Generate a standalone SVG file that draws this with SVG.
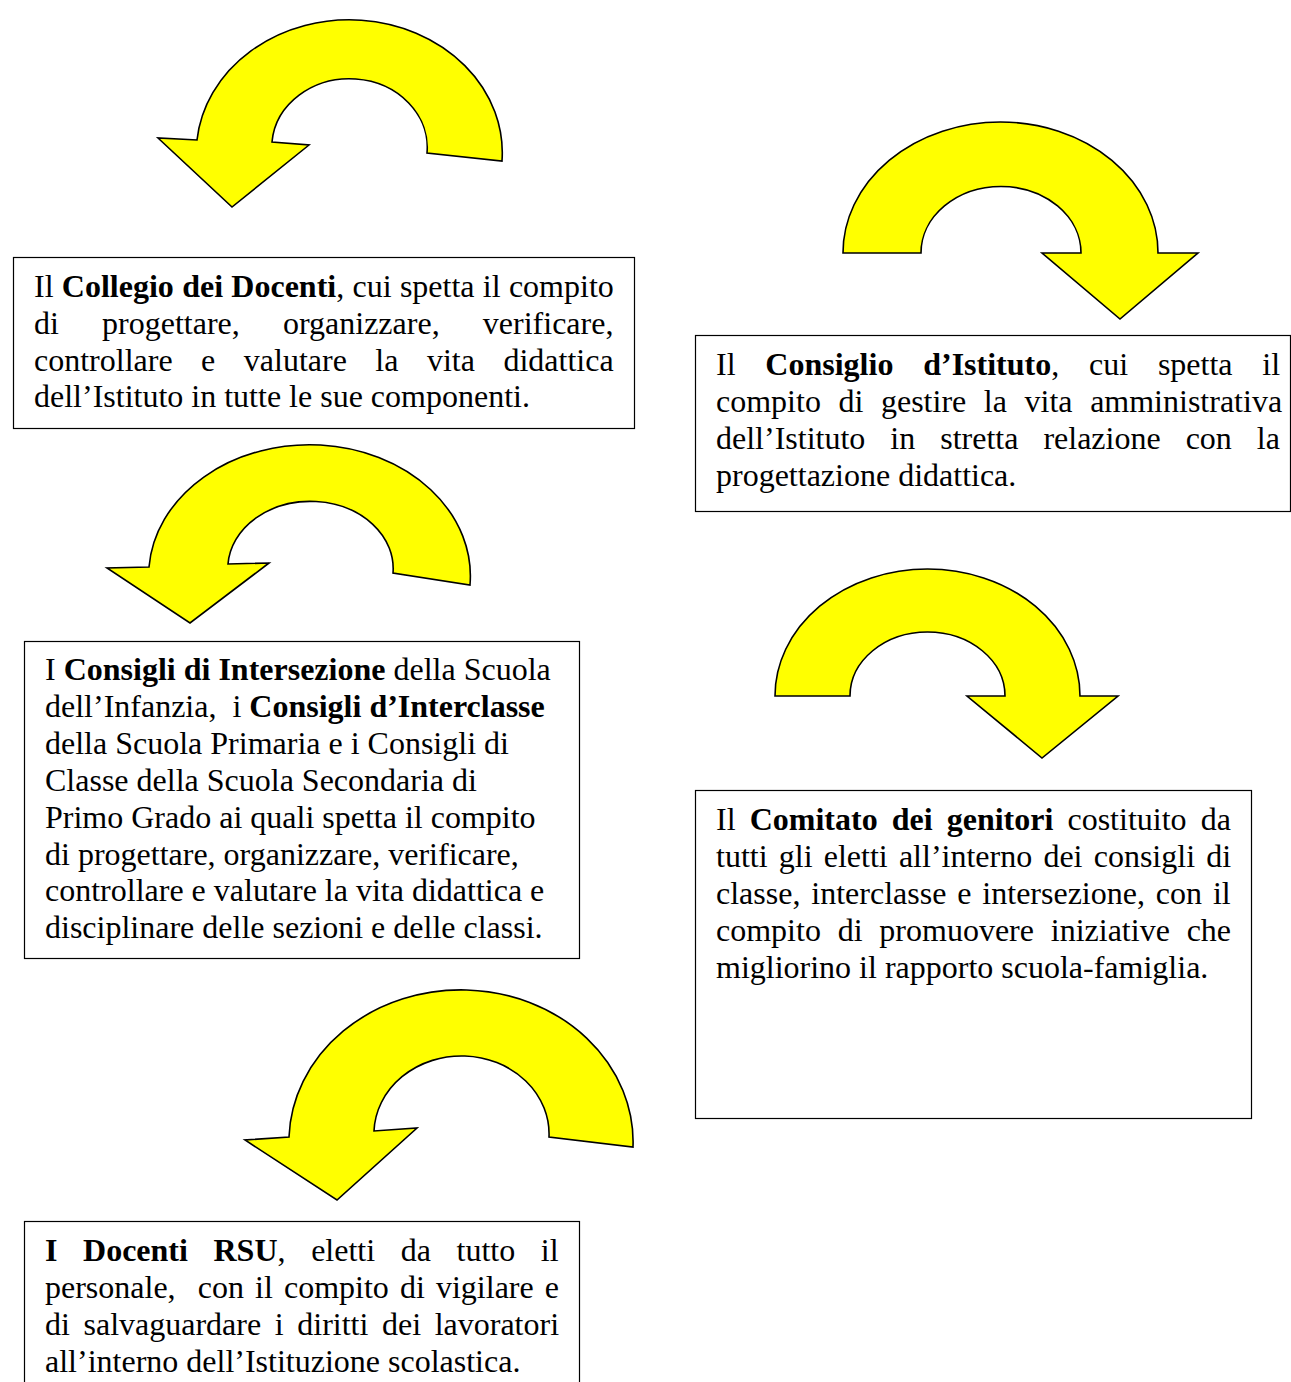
<svg xmlns="http://www.w3.org/2000/svg" width="1291" height="1382" viewBox="0 0 1291 1382">
<style>
.bg{fill:#ffffff}
.box{fill:#ffffff;stroke:#000000;stroke-width:1.2}
.arr{fill:#ffff00;stroke:#000000;stroke-width:1.6;stroke-linejoin:miter}
.t{font-family:"Liberation Serif","Times New Roman",serif;font-size:32px;fill:#000000}
.b{font-weight:bold}
</style>
<rect class="bg" x="0" y="0" width="1291" height="1382"/>

<g id="connectors">
  <path id="arrow1" class="arr" d="M 272,142 A 77.5,68.5 0 0 1 427,153 L 502,161 A 153,133 0 0 0 197,140 L 158,138 L 232,207 L 309,145 Z"/>
  <path id="arrow2" class="arr" d="M 843,253 A 157.5,131 0 0 1 1158,253 L 1198,253 L 1120,319 L 1042,253 L 1081,253 A 80,66.5 0 0 0 921,253 Z"/>
  <path id="arrow3" class="arr" d="M 228,564 A 82.5,67 0 0 1 393,573 L 470,585 A 160.5,131 0 0 0 149,567 L 107,568 L 190,623 L 269,563 Z"/>
  <path id="arrow4" class="arr" d="M 775,696 A 152.5,127 0 0 1 1080,696 L 1118,696 L 1042,758 L 967,696 L 1005,696 A 77.5,64 0 0 0 850,696 Z"/>
  <path id="arrow5" class="arr" d="M 374,1131 A 87.5,78 0 0 1 549,1137 L 633,1147 A 172,152 0 0 0 289,1137 L 245,1140 L 337,1200 L 417,1128 Z"/>
</g>

<g id="collegio">
  <rect class="box" x="13.5" y="257.5" width="621" height="171"/>
  <text class="t" x="34" y="297" style="word-spacing:0.3px">Il <tspan class="b">Collegio dei Docenti</tspan>, cui spetta il compito</text>
  <text class="t" x="34" y="334" style="word-spacing:35.2px">di progettare, organizzare, verificare,</text>
  <text class="t" x="34" y="371" style="word-spacing:20.5px">controllare e valutare la vita didattica</text>
  <text class="t" x="34" y="407">dell’Istituto in tutte le sue componenti.</text>
</g>

<g id="consiglio-istituto">
  <rect class="box" x="695.5" y="335.5" width="595" height="176"/>
  <text class="t" x="716" y="375" style="word-spacing:21.8px">Il <tspan class="b">Consiglio d’Istituto</tspan>, cui spetta il</text>
  <text class="t" x="716" y="412" style="word-spacing:9.6px">compito di gestire la vita amministrativa</text>
  <text class="t" x="716" y="449" style="word-spacing:17px">dell’Istituto in stretta relazione con la</text>
  <text class="t" x="716" y="486">progettazione didattica.</text>
</g>

<g id="consigli-intersezione">
  <rect class="box" x="24.5" y="641.5" width="555" height="317"/>
  <text class="t" x="45" y="680">I <tspan class="b">Consigli di Intersezione</tspan> della Scuola</text>
  <text class="t" x="45" y="717" xml:space="preserve">dell’Infanzia,  i <tspan class="b">Consigli d’Interclasse</tspan></text>
  <text class="t" x="45" y="754">della Scuola Primaria e i Consigli di</text>
  <text class="t" x="45" y="791">Classe della Scuola Secondaria di</text>
  <text class="t" x="45" y="828">Primo Grado ai quali spetta il compito</text>
  <text class="t" x="45" y="865">di progettare, organizzare, verificare,</text>
  <text class="t" x="45" y="901">controllare e valutare la vita didattica e</text>
  <text class="t" x="45" y="938">disciplinare delle sezioni e delle classi.</text>
</g>

<g id="comitato-genitori">
  <rect class="box" x="695.5" y="790.5" width="556" height="328"/>
  <text class="t" x="716" y="830" style="word-spacing:6.1px">Il <tspan class="b">Comitato dei genitori</tspan> costituito da</text>
  <text class="t" x="716" y="867" style="word-spacing:3.2px">tutti gli eletti all’interno dei consigli di</text>
  <text class="t" x="716" y="904" style="word-spacing:2.9px">classe, interclasse e intersezione, con il</text>
  <text class="t" x="716" y="941" style="word-spacing:8.8px">compito di promuovere iniziative che</text>
  <text class="t" x="716" y="978">migliorino il rapporto scuola-famiglia.</text>
</g>

<g id="docenti-rsu">
  <rect class="box" x="24.5" y="1221.5" width="555" height="175"/>
  <text class="t" x="45" y="1261" style="word-spacing:17.6px"><tspan class="b">I Docenti RSU</tspan>, eletti da tutto il</text>
  <text class="t" x="45" y="1298" style="word-spacing:3.1px" xml:space="preserve">personale,  con il compito di vigilare e</text>
  <text class="t" x="45" y="1335" style="word-spacing:5.6px">di salvaguardare i diritti dei lavoratori</text>
  <text class="t" x="45" y="1372">all’interno dell’Istituzione scolastica.</text>
</g>
</svg>
